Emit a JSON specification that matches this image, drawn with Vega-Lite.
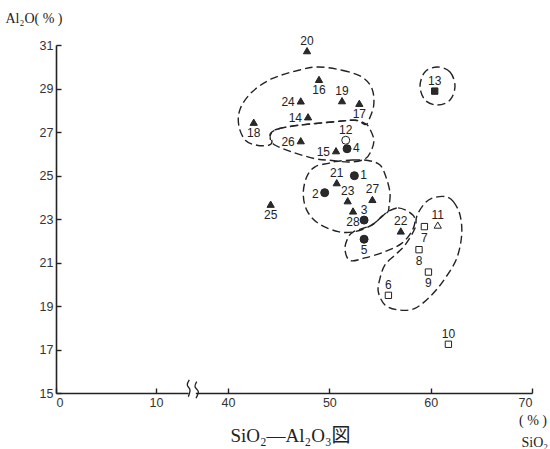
{
  "$schema": "https://vega.github.io/schema/vega-lite/v6.json",
  "width": 476,
  "height": 348,
  "autosize": "none",
  "padding": {"left": 56, "top": 45, "right": 18, "bottom": 56},
  "background": "white",
  "config": {
    "view": {"stroke": null},
    "axis": {"grid": false, "labelFont": "Liberation Sans", "labelFontSize": 12.5, "labelColor": "#333", "domainColor": "#222", "domainWidth": 1.6, "tickColor": "#222", "tickWidth": 1.4, "tickSize": -5, "labelPadding": 8, "zindex": 0}
  },
  "datasets": {
    "pts": [
      {"id": 1, "SiO2": 52.47, "Al2O3": 24.99, "shape": "circle", "fill": "filled"},
      {"id": 2, "SiO2": 49.54, "Al2O3": 24.21, "shape": "circle", "fill": "filled"},
      {"id": 3, "SiO2": 53.43, "Al2O3": 22.95, "shape": "circle", "fill": "filled"},
      {"id": 4, "SiO2": 51.75, "Al2O3": 26.23, "shape": "circle", "fill": "filled"},
      {"id": 5, "SiO2": 53.43, "Al2O3": 22.07, "shape": "circle", "fill": "filled"},
      {"id": 6, "SiO2": 55.83, "Al2O3": 19.49, "shape": "square", "fill": "open"},
      {"id": 7, "SiO2": 59.38, "Al2O3": 22.65, "shape": "square", "fill": "open"},
      {"id": 8, "SiO2": 58.85, "Al2O3": 21.59, "shape": "square", "fill": "open"},
      {"id": 9, "SiO2": 59.78, "Al2O3": 20.56, "shape": "square", "fill": "open"},
      {"id": 10, "SiO2": 61.75, "Al2O3": 17.24, "shape": "square", "fill": "open"},
      {"id": 11, "SiO2": 60.7, "Al2O3": 22.72, "shape": "triangle-up", "fill": "open"},
      {"id": 12, "SiO2": 51.62, "Al2O3": 26.62, "shape": "circle", "fill": "open"},
      {"id": 13, "SiO2": 60.4, "Al2O3": 28.88, "shape": "square", "fill": "filled"},
      {"id": 14, "SiO2": 47.9, "Al2O3": 27.7, "shape": "triangle-up", "fill": "filled"},
      {"id": 15, "SiO2": 50.66, "Al2O3": 26.14, "shape": "triangle-up", "fill": "filled"},
      {"id": 16, "SiO2": 48.98, "Al2O3": 29.42, "shape": "triangle-up", "fill": "filled"},
      {"id": 17, "SiO2": 52.96, "Al2O3": 28.32, "shape": "triangle-up", "fill": "filled"},
      {"id": 18, "SiO2": 42.54, "Al2O3": 27.45, "shape": "triangle-up", "fill": "filled"},
      {"id": 19, "SiO2": 51.25, "Al2O3": 28.44, "shape": "triangle-up", "fill": "filled"},
      {"id": 20, "SiO2": 47.8, "Al2O3": 30.74, "shape": "triangle-up", "fill": "filled"},
      {"id": 21, "SiO2": 50.73, "Al2O3": 24.67, "shape": "triangle-up", "fill": "filled"},
      {"id": 22, "SiO2": 57.05, "Al2O3": 22.45, "shape": "triangle-up", "fill": "filled"},
      {"id": 23, "SiO2": 51.81, "Al2O3": 23.84, "shape": "triangle-up", "fill": "filled"},
      {"id": 24, "SiO2": 47.18, "Al2O3": 28.43, "shape": "triangle-up", "fill": "filled"},
      {"id": 25, "SiO2": 44.21, "Al2O3": 23.68, "shape": "triangle-up", "fill": "filled"},
      {"id": 26, "SiO2": 47.18, "Al2O3": 26.6, "shape": "triangle-up", "fill": "filled"},
      {"id": 27, "SiO2": 54.25, "Al2O3": 23.9, "shape": "triangle-up", "fill": "filled"},
      {"id": 28, "SiO2": 52.34, "Al2O3": 23.37, "shape": "triangle-up", "fill": "filled"}
    ],
    "loops": [
      {"g": "A", "o": 1, "SiO2": 48.95, "Al2O3": 29.99},
      {"g": "A", "o": 2, "SiO2": 51.25, "Al2O3": 29.84},
      {"g": "A", "o": 3, "SiO2": 53.22, "Al2O3": 29.53},
      {"g": "A", "o": 4, "SiO2": 54.21, "Al2O3": 28.99},
      {"g": "A", "o": 5, "SiO2": 54.38, "Al2O3": 28.23},
      {"g": "A", "o": 6, "SiO2": 53.89, "Al2O3": 27.54},
      {"g": "A", "o": 7, "SiO2": 53.55, "Al2O3": 27.34},
      {"g": "A", "o": 8, "SiO2": 52.56, "Al2O3": 27.54},
      {"g": "A", "o": 9, "SiO2": 50.26, "Al2O3": 27.46},
      {"g": "A", "o": 10, "SiO2": 46.98, "Al2O3": 27.31},
      {"g": "A", "o": 11, "SiO2": 45.0, "Al2O3": 27.15},
      {"g": "A", "o": 12, "SiO2": 44.17, "Al2O3": 26.92},
      {"g": "A", "o": 13, "SiO2": 44.34, "Al2O3": 26.54},
      {"g": "A", "o": 14, "SiO2": 44.02, "Al2O3": 26.39},
      {"g": "A", "o": 15, "SiO2": 42.86, "Al2O3": 26.39},
      {"g": "A", "o": 16, "SiO2": 41.71, "Al2O3": 26.62},
      {"g": "A", "o": 17, "SiO2": 41.06, "Al2O3": 27.31},
      {"g": "A", "o": 18, "SiO2": 41.21, "Al2O3": 28.07},
      {"g": "A", "o": 19, "SiO2": 42.37, "Al2O3": 28.84},
      {"g": "A", "o": 20, "SiO2": 44.34, "Al2O3": 29.45},
      {"g": "A", "o": 21, "SiO2": 46.98, "Al2O3": 29.84},
      {"g": "B", "o": 1, "SiO2": 44.34, "Al2O3": 27.0},
      {"g": "B", "o": 2, "SiO2": 45.0, "Al2O3": 27.15},
      {"g": "B", "o": 3, "SiO2": 46.98, "Al2O3": 27.31},
      {"g": "B", "o": 4, "SiO2": 50.26, "Al2O3": 27.46},
      {"g": "B", "o": 5, "SiO2": 52.56, "Al2O3": 27.54},
      {"g": "B", "o": 6, "SiO2": 53.55, "Al2O3": 27.38},
      {"g": "B", "o": 7, "SiO2": 53.89, "Al2O3": 27.23},
      {"g": "B", "o": 8, "SiO2": 54.38, "Al2O3": 26.69},
      {"g": "B", "o": 9, "SiO2": 54.21, "Al2O3": 26.23},
      {"g": "B", "o": 10, "SiO2": 53.55, "Al2O3": 25.77},
      {"g": "B", "o": 11, "SiO2": 52.04, "Al2O3": 25.62},
      {"g": "B", "o": 12, "SiO2": 50.26, "Al2O3": 25.69},
      {"g": "B", "o": 13, "SiO2": 48.62, "Al2O3": 25.77},
      {"g": "B", "o": 14, "SiO2": 46.32, "Al2O3": 26.08},
      {"g": "B", "o": 15, "SiO2": 44.67, "Al2O3": 26.39},
      {"g": "B", "o": 16, "SiO2": 44.17, "Al2O3": 26.69},
      {"g": "C", "o": 1, "SiO2": 50.56, "Al2O3": 25.64},
      {"g": "C", "o": 2, "SiO2": 52.24, "Al2O3": 25.71},
      {"g": "C", "o": 3, "SiO2": 53.82, "Al2O3": 25.69},
      {"g": "C", "o": 4, "SiO2": 55.0, "Al2O3": 25.48},
      {"g": "C", "o": 5, "SiO2": 55.59, "Al2O3": 24.93},
      {"g": "C", "o": 6, "SiO2": 55.99, "Al2O3": 24.2},
      {"g": "C", "o": 7, "SiO2": 55.89, "Al2O3": 23.6},
      {"g": "C", "o": 8, "SiO2": 55.79, "Al2O3": 23.34},
      {"g": "C", "o": 9, "SiO2": 55.17, "Al2O3": 23.11},
      {"g": "C", "o": 10, "SiO2": 54.18, "Al2O3": 22.72},
      {"g": "C", "o": 11, "SiO2": 52.53, "Al2O3": 22.42},
      {"g": "C", "o": 12, "SiO2": 50.88, "Al2O3": 22.42},
      {"g": "C", "o": 13, "SiO2": 48.91, "Al2O3": 22.8},
      {"g": "C", "o": 14, "SiO2": 47.77, "Al2O3": 23.41},
      {"g": "C", "o": 15, "SiO2": 47.43, "Al2O3": 24.18},
      {"g": "C", "o": 16, "SiO2": 47.77, "Al2O3": 24.94},
      {"g": "C", "o": 17, "SiO2": 48.59, "Al2O3": 25.4},
      {"g": "C", "o": 18, "SiO2": 49.9, "Al2O3": 25.56},
      {"g": "D", "o": 1, "SiO2": 55.79, "Al2O3": 23.34},
      {"g": "D", "o": 2, "SiO2": 56.78, "Al2O3": 23.51},
      {"g": "D", "o": 3, "SiO2": 57.86, "Al2O3": 23.32},
      {"g": "D", "o": 4, "SiO2": 58.45, "Al2O3": 23.0},
      {"g": "D", "o": 5, "SiO2": 58.16, "Al2O3": 22.45},
      {"g": "D", "o": 6, "SiO2": 57.14, "Al2O3": 21.88},
      {"g": "D", "o": 7, "SiO2": 55.49, "Al2O3": 21.5},
      {"g": "D", "o": 8, "SiO2": 53.52, "Al2O3": 21.21},
      {"g": "D", "o": 9, "SiO2": 52.04, "Al2O3": 21.09},
      {"g": "D", "o": 10, "SiO2": 51.55, "Al2O3": 21.57},
      {"g": "D", "o": 11, "SiO2": 51.74, "Al2O3": 22.03},
      {"g": "D", "o": 12, "SiO2": 52.34, "Al2O3": 22.4},
      {"g": "D", "o": 13, "SiO2": 54.18, "Al2O3": 22.72},
      {"g": "D", "o": 14, "SiO2": 55.17, "Al2O3": 23.11},
      {"g": "E", "o": 1, "SiO2": 61.42, "Al2O3": 24.03},
      {"g": "E", "o": 2, "SiO2": 62.24, "Al2O3": 23.8},
      {"g": "E", "o": 3, "SiO2": 62.9, "Al2O3": 23.18},
      {"g": "E", "o": 4, "SiO2": 63.06, "Al2O3": 22.26},
      {"g": "E", "o": 5, "SiO2": 62.57, "Al2O3": 21.19},
      {"g": "E", "o": 6, "SiO2": 61.42, "Al2O3": 20.27},
      {"g": "E", "o": 7, "SiO2": 60.1, "Al2O3": 19.51},
      {"g": "E", "o": 8, "SiO2": 58.45, "Al2O3": 18.89},
      {"g": "E", "o": 9, "SiO2": 56.81, "Al2O3": 18.82},
      {"g": "E", "o": 10, "SiO2": 55.49, "Al2O3": 19.05},
      {"g": "E", "o": 11, "SiO2": 54.83, "Al2O3": 19.66},
      {"g": "E", "o": 12, "SiO2": 55.0, "Al2O3": 20.27},
      {"g": "E", "o": 13, "SiO2": 55.49, "Al2O3": 20.89},
      {"g": "E", "o": 14, "SiO2": 56.48, "Al2O3": 21.34},
      {"g": "E", "o": 15, "SiO2": 57.47, "Al2O3": 21.8},
      {"g": "E", "o": 16, "SiO2": 58.45, "Al2O3": 22.57},
      {"g": "E", "o": 17, "SiO2": 58.62, "Al2O3": 23.11},
      {"g": "E", "o": 18, "SiO2": 59.27, "Al2O3": 23.64},
      {"g": "E", "o": 19, "SiO2": 60.1, "Al2O3": 23.95},
      {"g": "F", "o": 1, "SiO2": 60.67, "Al2O3": 29.99},
      {"g": "F", "o": 2, "SiO2": 61.91, "Al2O3": 29.76},
      {"g": "F", "o": 3, "SiO2": 62.4, "Al2O3": 29.11},
      {"g": "F", "o": 4, "SiO2": 61.91, "Al2O3": 28.47},
      {"g": "F", "o": 5, "SiO2": 60.67, "Al2O3": 28.24},
      {"g": "F", "o": 6, "SiO2": 59.44, "Al2O3": 28.47},
      {"g": "F", "o": 7, "SiO2": 58.95, "Al2O3": 29.11},
      {"g": "F", "o": 8, "SiO2": 59.44, "Al2O3": 29.76}
    ],
    "brk": [
      {"g": "L", "o": 1, "SiO2": 23.88, "Al2O3": 15.6},
      {"g": "L", "o": 2, "SiO2": 23.04, "Al2O3": 15.37},
      {"g": "L", "o": 3, "SiO2": 24.17, "Al2O3": 15.14},
      {"g": "L", "o": 4, "SiO2": 23.46, "Al2O3": 14.83},
      {"g": "R", "o": 1, "SiO2": 26.96, "Al2O3": 15.52},
      {"g": "R", "o": 2, "SiO2": 26.25, "Al2O3": 15.29},
      {"g": "R", "o": 3, "SiO2": 27.63, "Al2O3": 15.06},
      {"g": "R", "o": 4, "SiO2": 26.67, "Al2O3": 14.76}
    ]
  },
  "encoding": {
    "x": {
      "field": "SiO2", "type": "quantitative",
      "scale": {"domain": [0, 10, 40, 70], "range": [0, 100, 172, 476], "nice": false, "zero": false},
      "axis": {"values": [0, 10, 40, 50, 60, 70], "title": "SiO₂—Al₂O₃図", "titleFont": "Liberation Serif, Noto Sans CJK JP", "titleFontSize": 19, "titleFontWeight": "normal", "titleColor": "#222", "titleX": 234, "titleY": 42, "titleBaseline": "middle", "titleAlign": "center"}
    },
    "y": {
      "field": "Al2O3", "type": "quantitative",
      "scale": {"domain": [15, 31], "nice": false, "zero": false},
      "axis": {"values": [15, 17, 19, 21, 23, 25, 27, 29, 31], "title": "Al₂O( % )", "titleFont": "Liberation Serif", "titleFontSize": 14, "titleFontWeight": "normal", "titleColor": "#222", "titleAngle": 0, "titleAlign": "left", "titleBaseline": "middle", "titleX": -51, "titleY": -27}
    }
  },
  "layer": [
    {
      "data": {"name": "loops"},
      "mark": {"type": "line", "interpolate": "cardinal-closed", "stroke": "#222", "strokeWidth": 1.4, "strokeDash": [8, 4]},
      "encoding": {"detail": {"field": "g"}, "order": {"field": "o", "type": "quantitative"}}
    },
    {
      "data": {"name": "pts"},
      "mark": {"type": "point", "filled": true, "stroke": "#222", "strokeWidth": 1, "opacity": 1},
      "encoding": {
        "shape": {"field": "shape", "type": "nominal", "scale": null},
        "fill": {"field": "fill", "type": "nominal", "scale": {"domain": ["filled", "open"], "range": ["#2a2a2a", "#ffffff"]}, "legend": null},
        "size": {"field": "shape", "type": "nominal", "scale": {"domain": ["circle", "triangle-up", "square"], "range": [64, 40, 42]}, "legend": null}
      }
    },
    {
      "data": {"name": "pts"},
      "transform": [{"filter": {"field": "id", "oneOf": [3, 6, 10, 11, 12, 13, 19, 20, 21, 22, 23, 27]}}],
      "mark": {"type": "text", "dy": -10, "font": "Liberation Sans", "fontSize": 12, "fill": "#222"},
      "encoding": {"text": {"field": "id"}}
    },
    {
      "data": {"name": "pts"},
      "transform": [{"filter": {"field": "id", "oneOf": [5, 7, 8, 9, 16, 17, 18, 25, 28]}}],
      "mark": {"type": "text", "dy": 11, "font": "Liberation Sans", "fontSize": 12, "fill": "#222"},
      "encoding": {"text": {"field": "id"}}
    },
    {
      "data": {"name": "pts"},
      "transform": [{"filter": {"field": "id", "oneOf": [2, 14, 15, 24, 26]}}],
      "mark": {"type": "text", "dx": -6, "dy": 1, "align": "right", "font": "Liberation Sans", "fontSize": 12, "fill": "#222"},
      "encoding": {"text": {"field": "id"}}
    },
    {
      "data": {"name": "pts"},
      "transform": [{"filter": {"field": "id", "oneOf": [1, 4]}}],
      "mark": {"type": "text", "dx": 6, "dy": -1, "align": "left", "font": "Liberation Sans", "fontSize": 12, "fill": "#222"},
      "encoding": {"text": {"field": "id"}}
    },
    {
      "data": {"values": [{"SiO2": 23.6, "SiO2b": 26.6, "Al2O3": 15}]},
      "mark": {"type": "rule", "stroke": "white", "strokeWidth": 5},
      "encoding": {"x2": {"field": "SiO2b"}}
    },
    {
      "data": {"name": "brk"},
      "mark": {"type": "line", "interpolate": "cardinal", "stroke": "#222", "strokeWidth": 1.3},
      "encoding": {"detail": {"field": "g"}, "order": {"field": "o", "type": "quantitative"}}
    },
    {
      "data": {"values": [{"SiO2": 70.1, "Al2O3": 13.72, "t": "( % )"}]},
      "mark": {"type": "text", "font": "Liberation Serif", "fontSize": 14, "fill": "#222", "baseline": "middle"},
      "encoding": {"text": {"field": "t"}}
    },
    {
      "data": {"values": [{"SiO2": 71.6, "Al2O3": 12.7, "t": "SiO₂"}]},
      "mark": {"type": "text", "font": "Liberation Serif", "fontSize": 14, "fill": "#222", "baseline": "middle", "align": "right"},
      "encoding": {"text": {"field": "t"}}
    }
  ]
}
